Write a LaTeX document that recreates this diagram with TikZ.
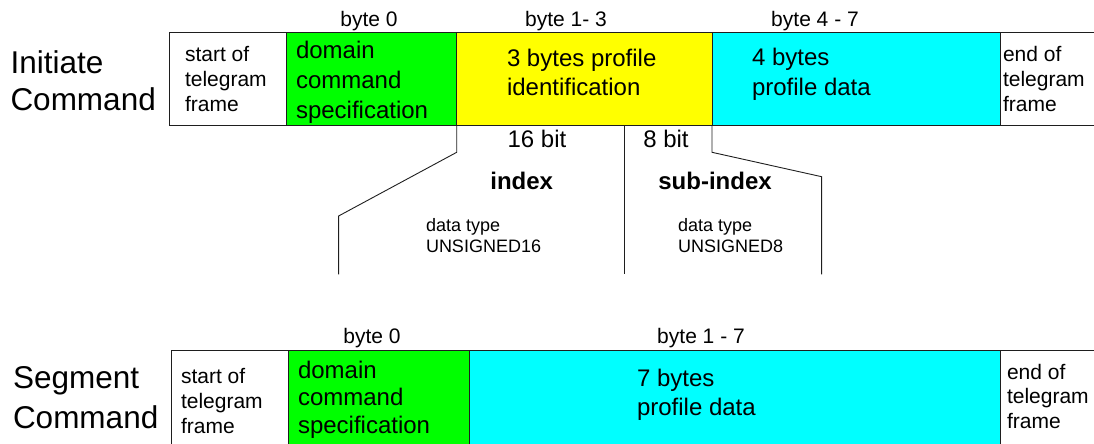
\documentclass[tikz,border=0pt]{standalone}
\usepackage{fontspec}
\setmainfont{Liberation Sans}
% font size helper and a top-aligned stack of lines with a fixed line pitch
\newcommand\fs[2]{\fontsize{#1}{#2}\selectfont}
\newcommand\stk[2]{\vtop{\baselineskip=#1\relax\lineskiplimit=-100pt #2}}
\definecolor{fgreen}{RGB}{0,255,0}
\definecolor{fyellow}{RGB}{255,255,0}
\definecolor{fcyan}{RGB}{0,255,255}
\definecolor{edge}{RGB}{30,30,30}
\begin{document}
\begin{tikzpicture}[x=1pt,y=-1pt,
  every node/.style={inner sep=0pt, outer sep=0pt},
  cell/.style={rectangle, draw=edge, line width=1pt, anchor=north west},
  toprow/.style={cell, minimum height=93pt},
  botrow/.style={cell, minimum height=120pt},
  link/.style={draw=edge, line width=0.9pt},
  txt/.style={anchor=base west},
  ctr/.style={anchor=base},
  big/.style={font=\fs{31.5}{37}},
  small/.style={font=\fs{21}{25}},
  mid/.style={font=\fs{24}{29}},
  tiny/.style={font=\fs{18}{20}}
]
\useasboundingbox (0,0) rectangle (1094,444);

% ---- Initiate command frame ----
\node[toprow, fill=white,   minimum width=117pt]   (sA) at (169,32.3) {};
\node[toprow, fill=fgreen,  minimum width=170.7pt] (sB) at (286,32.3) {};
\node[toprow, fill=fyellow, minimum width=255.3pt] (sC) at (456.7,32.3) {};
\node[toprow, fill=fcyan,   minimum width=288pt]   (sD) at (712,32.3) {};
\node[toprow, fill=white,   minimum width=150pt]   (sE) at (1000,32.3) {};

\node[txt, big] (lblI) at (10.5,73.3) {\stk{37pt}{\hbox{Initiate}\hbox{Command}}};
\node[ctr, small] (bI0) at (369,26.7) {byte 0};
\node[ctr, small] (bI13) at (566,26.7) {byte 1- 3};
\node[ctr, small] (bI47) at (815,26.7) {byte 4 - 7};

\node[txt, small] (tsA) at (185,61) {\stk{25.3pt}{\hbox{start of}\hbox{telegram}\hbox{frame}}};
\node[txt, mid] (tsB) at (296,58.3) {\stk{30pt}{\hbox{domain}\hbox{command}\hbox{specification}}};
\node[txt, mid] (tsC) at (507,66.7) {\stk{28.3pt}{\hbox{3 bytes profile}\hbox{identification}}};
\node[txt, mid] (tsD) at (752,65.7) {\stk{30pt}{\hbox{4 bytes}\hbox{profile data}}};
\node[txt, small] (tsE) at (1003,61.7) {\stk{25pt}{\hbox{end of}\hbox{telegram}\hbox{frame}}};

% ---- break-out of the identification field ----
\coordinate (kL) at (456.7,152.3);
\coordinate (dL) at (338.6,216);
\coordinate (eL) at (338.6,274.3);
\coordinate (sM) at (624,125.3);
\coordinate (eM) at (624,274.3);
\coordinate (kR) at (712,152.3);
\coordinate (dR) at (821.6,176.7);
\coordinate (eR) at (821.6,274.3);
\draw[link] (sC.south west) -- (kL) -- (dL) -- (eL);
\draw[link] (sM) -- (eM);
\draw[link] (sC.south east) -- (kR) -- (dR) -- (eR);

\node[ctr, mid] (b16) at (537,147) {16 bit};
\node[ctr, mid] (b8) at (666,147) {8 bit};
\node[ctr, mid, font=\fs{24}{29}\bfseries] (idx) at (521.7,189) {index};
\node[ctr, mid, font=\fs{24}{29}\bfseries] (sidx) at (715,189) {sub-index};
\node[txt, tiny] (dt16) at (426,231.7) {\stk{20.3pt}{\hbox{data type}\hbox{UNSIGNED16}}};
\node[txt, tiny] (dt8) at (678,231.7) {\stk{20.3pt}{\hbox{data type}\hbox{UNSIGNED8}}};

% ---- Segment command frame ----
\node[botrow, fill=white,  minimum width=116.5pt] (gA) at (171.5,350) {};
\node[botrow, fill=fgreen, minimum width=181.3pt] (gB) at (288,350) {};
\node[botrow, fill=fcyan,  minimum width=530.7pt] (gC) at (469.3,350) {};
\node[botrow, fill=white,  minimum width=150pt]   (gD) at (1000,350) {};

\node[txt, big] (lblS) at (13,388.3) {\stk{40pt}{\hbox{Segment}\hbox{Command}}};
\node[ctr, small] (bS0) at (372,343.3) {byte 0};
\node[ctr, small] (bS17) at (701,343.3) {byte 1 - 7};

\node[txt, small] (tgA) at (181,383.3) {\stk{25pt}{\hbox{start of}\hbox{telegram}\hbox{frame}}};
\node[txt, mid] (tgB) at (298,378.3) {\stk{27.5pt}{\hbox{domain}\hbox{command}\hbox{specification}}};
\node[txt, mid] (tgC) at (637,386.7) {\stk{28.3pt}{\hbox{7 bytes}\hbox{profile data}}};
\node[txt, small] (tgD) at (1007,379) {\stk{24.5pt}{\hbox{end of}\hbox{telegram}\hbox{frame}}};
\end{tikzpicture}
\end{document}
